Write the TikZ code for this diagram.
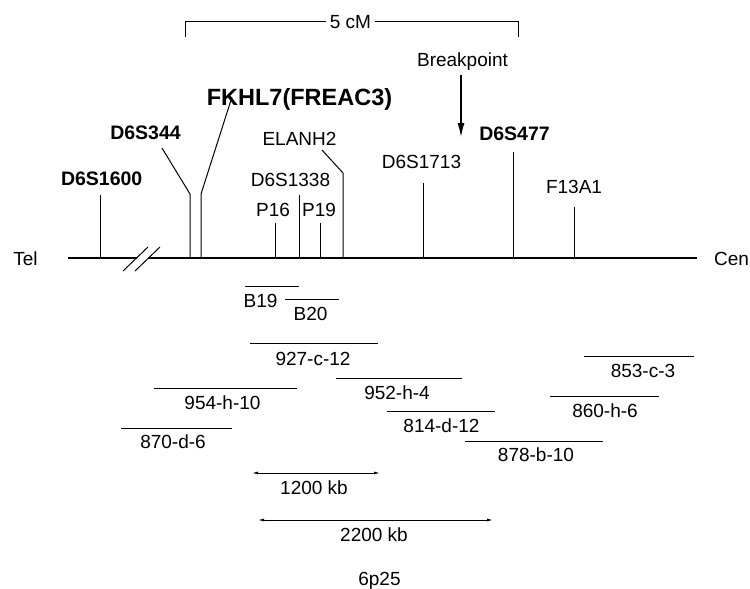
\documentclass[tikz,border=0pt]{standalone}
\usepackage{fontspec}
\setmainfont{Liberation Sans}
\usetikzlibrary{arrows.meta}
\tikzset{
  lbl/.style={font=\fontsize{19}{21}\selectfont, inner sep=0pt, anchor=base},
  blbl/.style={font=\fontsize{19.5}{21}\selectfont\bfseries, inner sep=0pt, anchor=base},
  biglbl/.style={font=\fontsize{23.5}{25}\selectfont\bfseries, inner sep=0pt, anchor=base},
  thin line/.style={line width=1pt},
  chrom/.style={line width=2.2pt},
  contig/.style={line width=1pt},
  scalearrow/.style={line width=0.9pt, {Latex[length=6pt,width=3pt]}-{Latex[length=6pt,width=3pt]}},
  bparrow/.style={line width=1.2pt, -{Latex[length=14pt,width=7pt]}}
}
\newcommand{\contigline}[4]{%
  \coordinate (#1a) at (#2,#4); \coordinate (#1b) at (#3,#4);
  \draw[contig] (#1a) -- (#1b);}
\begin{document}
\begin{tikzpicture}[x=1pt,y=-1pt]
\useasboundingbox (0,0) rectangle (750,589);

% 5 cM bracket
\node[lbl, inner xsep=4pt] (cm) at (350.5,28.5) {5 cM};
\coordinate (cmL) at (185,37);
\coordinate (cmR) at (518,37);
\draw[thin line] (cmL) |- (cm.west |- 0,21);
\draw[thin line] (cmR) |- (cm.east |- 0,21);

% chromosome line
\node[lbl] (tel) at (25.5,265) {Tel};
\node[lbl] (cen) at (731.5,265) {Cen};
\coordinate (c0) at (68,258);
\coordinate (c1) at (137,258);
\coordinate (c2) at (148,258);
\coordinate (c3) at (697,258);
\draw[chrom] (c0) -- (c1);
\draw[chrom] (c2) -- (c3);
% break marks
\coordinate (s1a) at (123,271); \coordinate (s1b) at (148,247);
\coordinate (s2a) at (135,271); \coordinate (s2b) at (160,247);
\draw[thin line] (s1a) -- (s1b);
\draw[thin line] (s2a) -- (s2b);

% markers
\node[blbl] (d1600) at (101.7,185) {D6S1600};
\coordinate (t1600) at (100,258); \coordinate (u1600) at (100,195);
\draw[thin line] (t1600) -- (u1600);

\node[blbl] (d344) at (145.5,139) {D6S344};
\coordinate (t344) at (190,258); \coordinate (b344) at (190,194); \coordinate (e344) at (162,148);
\draw[thin line] (t344) -- (b344) -- (e344);

\node[biglbl] (fkhl) at (299.5,105) {FKHL7(FREAC3)};
\coordinate (tfk) at (201,258); \coordinate (bfk) at (201,194); \coordinate (efk) at (232,97);
\draw[thin line] (tfk) -- (bfk) -- (efk);

\node[lbl] (p16) at (273,216) {P16};
\coordinate (tp16) at (275,258); \coordinate (up16) at (275,223);
\draw[thin line] (tp16) -- (up16);

\node[lbl] (d1338) at (290.5,186) {D6S1338};
\coordinate (t1338) at (299,258); \coordinate (u1338) at (299,195);
\draw[thin line] (t1338) -- (u1338);

\node[lbl] (p19) at (319,216) {P19};
\coordinate (tp19) at (320,258); \coordinate (up19) at (320,223);
\draw[thin line] (tp19) -- (up19);

\node[lbl] (elanh) at (299.5,145) {ELANH2};
\coordinate (tel2) at (343,258); \coordinate (bel2) at (343,173); \coordinate (eel2) at (322,150);
\draw[thin line] (tel2) -- (bel2) -- (eel2);

\node[lbl] (d1713) at (421.5,168) {D6S1713};
\coordinate (t1713) at (423,258); \coordinate (u1713) at (423,183);
\draw[thin line] (t1713) -- (u1713);

\node[blbl] (d477) at (514.5,140) {D6S477};
\coordinate (t477) at (513,258); \coordinate (u477) at (513,152);
\draw[thin line] (t477) -- (u477);

\node[lbl] (f13) at (574,193) {F13A1};
\coordinate (tf13) at (574,258); \coordinate (uf13) at (574,207);
\draw[thin line] (tf13) -- (uf13);

% breakpoint
\node[lbl] (bp) at (462.5,66.5) {Breakpoint};
\coordinate (bps) at (461,75);
\coordinate (bpe) at (461,137);
\draw[bparrow] (bps) -- (bpe);

% contigs
\contigline{b19}{245}{299}{286}
\node[lbl] (lb19) at (260.5,307) {B19};
\contigline{b20}{285}{339}{299}
\node[lbl] (lb20) at (310.5,320) {B20};
\contigline{k927}{250}{378}{343}
\node[lbl] (l927) at (313,365) {927-c-12};
\contigline{k952}{336}{462}{378}
\node[lbl] (l952) at (397,399) {952-h-4};
\contigline{k954}{154}{297}{388}
\node[lbl] (l954) at (222.5,409) {954-h-10};
\contigline{k870}{121}{232}{428}
\node[lbl] (l870) at (173,448) {870-d-6};
\contigline{k814}{387}{495}{411}
\node[lbl] (l814) at (441.5,432) {814-d-12};
\contigline{k878}{465}{603}{441}
\node[lbl] (l878) at (536,461) {878-b-10};
\contigline{k853}{584}{694}{356}
\node[lbl] (l853) at (643,377) {853-c-3};
\contigline{k860}{550}{659}{396}
\node[lbl] (l860) at (605,417) {860-h-6};

% scale arrows
\coordinate (a12a) at (252,473); \coordinate (a12b) at (380,473);
\draw[scalearrow] (a12a) -- (a12b);
\node[lbl] (l1200) at (314,494) {1200 kb};
\coordinate (a22a) at (258,520); \coordinate (a22b) at (493,520);
\draw[scalearrow] (a22a) -- (a22b);
\node[lbl] (l2200) at (374,541) {2200 kb};

\node[lbl] (band) at (379.5,585) {6p25};
\end{tikzpicture}
\end{document}
